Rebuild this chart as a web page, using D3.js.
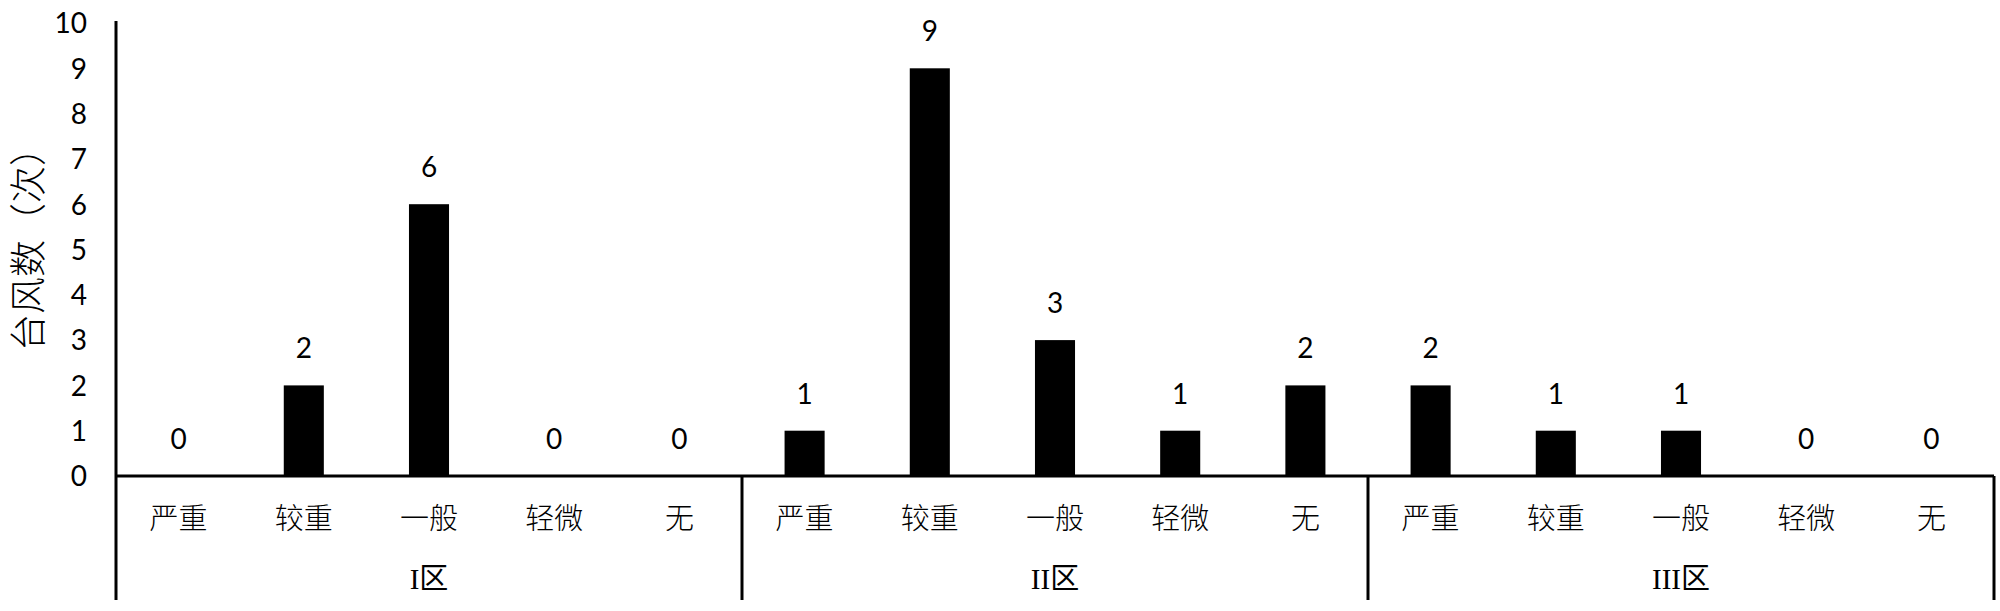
<!DOCTYPE html>
<html>
<head>
<meta charset="utf-8">
<script src="https://cdn.jsdelivr.net/npm/d3@7"></script>
<style>
  body { margin: 0; background: #fff; }
  svg text { fill: #000; }
</style>
</head>
<body>
<svg id="chart" width="2000" height="611"></svg>
<script>
/* globals d3 */
var zones = ['I区', 'II区', 'III区'];
var levels = ['严重', '较重', '一般', '轻微', '无'];
var countsI = [0, 2, 6, 0, 0];
var countsII = [1, 9, 3, 1, 2];
var countsIII = [2, 1, 1, 0, 0];
var yTicks = [0, 1, 2, 3, 4, 5, 6, 7, 8, 9, 10];

var allCounts = [countsI, countsII, countsIII];
var rows = [];
zones.forEach(function (z, i) {
  levels.forEach(function (l, j) {
    rows.push({ zone: z, level: l, key: z + '|' + l, value: allCounts[i][j] });
  });
});

var svg = d3.select('#chart');
// plot edges (note: "top" clashes with window.top)
var plotL = 116, plotR = 1994, plotT = 23, base = 476, plotB = 600;

var x = d3.scaleBand()
  .domain(rows.map(function (d) { return d.key; }))
  .range([plotL, plotR])
  .paddingInner(0.68)
  .paddingOuter(0.34);

var xZone = d3.scaleBand().domain(zones).range([plotL, plotR]);

var y = d3.scaleLinear().domain([0, 10]).range([base, plotT]);

var cnFont = '"Noto Sans CJK SC", sans-serif';
var numFont = 'Lato, "Open Sans", sans-serif';

// bars
svg.append('g').selectAll('rect')
  .data(rows)
  .enter().append('rect')
  .attr('x', function (d) { return x(d.key); })
  .attr('width', x.bandwidth())
  .attr('y', function (d) { return y(d.value); })
  .attr('height', function (d) { return base - y(d.value); })
  .attr('fill', '#000');

// value labels
svg.append('g').selectAll('text')
  .data(rows)
  .enter().append('text')
  .attr('x', function (d) { return x(d.key) + x.bandwidth() / 2; })
  .attr('y', function (d) { return y(d.value) - 27; })
  .attr('text-anchor', 'middle')
  .attr('font-family', numFont)
  .attr('font-size', 28)
  .text(function (d) { return d.value; });

// y axis
var yAxis = d3.axisLeft(y).tickValues(yTicks).tickSize(0).tickPadding(0);
var gy = svg.append('g')
  .attr('transform', 'translate(' + (plotL - 29) + ',0)')
  .call(yAxis);
gy.select('.domain').remove();
gy.selectAll('text')
  .attr('font-family', numFont)
  .attr('font-size', 28)
  .attr('dy', '0.35em');

svg.append('line')
  .attr('x1', plotL).attr('x2', plotL)
  .attr('y1', plotT - 2).attr('y2', plotB)
  .attr('stroke', '#000').attr('stroke-width', 3);

// baseline
svg.append('line')
  .attr('x1', plotL).attr('x2', plotR)
  .attr('y1', base).attr('y2', base)
  .attr('stroke', '#000').attr('stroke-width', 3);

// group separators
svg.append('g').selectAll('line')
  .data(zones.slice(1).concat(['end']))
  .enter().append('line')
  .attr('x1', function (d) { return d === 'end' ? plotR : xZone(d); })
  .attr('x2', function (d) { return d === 'end' ? plotR : xZone(d); })
  .attr('y1', base).attr('y2', plotB)
  .attr('stroke', '#000').attr('stroke-width', 3);

// category labels
svg.append('g').selectAll('text')
  .data(rows)
  .enter().append('text')
  .attr('x', function (d) { return x(d.key) + x.bandwidth() / 2; })
  .attr('y', 529)
  .attr('text-anchor', 'middle')
  .attr('font-family', cnFont)
  .attr('font-size', 29)
  .attr('font-weight', 300)
  .text(function (d) { return d.level; });

// zone labels
svg.append('g').selectAll('text')
  .data(zones)
  .enter().append('text')
  .attr('x', function (d) { return xZone(d) + xZone.bandwidth() / 2; })
  .attr('y', 589)
  .attr('text-anchor', 'middle')
  .attr('font-family', '"Liberation Serif", "Noto Sans CJK SC", serif')
  .attr('font-size', 29)
  .text(function (d) { return d; });

// y title
svg.append('text')
  .attr('transform', 'translate(42,240) rotate(-90)')
  .attr('text-anchor', 'middle')
  .attr('font-family', cnFont)
  .attr('font-size', 37)
  .attr('font-weight', 300)
  .text('台风数（次）');
</script>
</body>
</html>
